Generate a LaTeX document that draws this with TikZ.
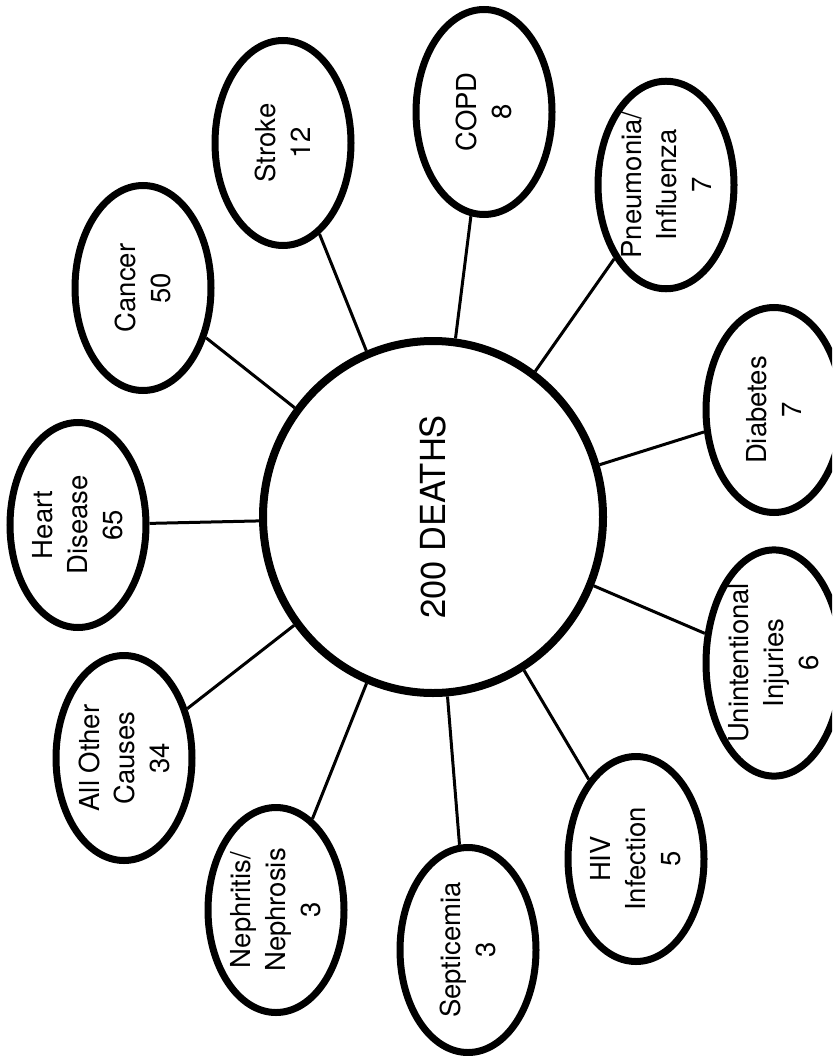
\documentclass[tikz,border=0pt]{standalone}
\usepackage{fontspec}
\setmainfont{TeX Gyre Heros}
\usetikzlibrary{shapes.geometric}

\begin{document}
\begin{tikzpicture}[x=1pt,y=-1pt,
  cause/.style={ellipse,draw,line width=7pt,rotate=90,align=center,
    minimum width=205pt,minimum height=136pt,inner sep=0pt,
    font=\fontsize{27.5}{35}\selectfont},
  deaths/.style={ellipse,draw,line width=8pt,rotate=90,
    minimum width=352pt,minimum height=340pt,
    font=\fontsize{34.5}{40}\selectfont},
  link/.style={line width=3pt}]

\clip (0,0) rectangle (832,1056);
\useasboundingbox (0,0) rectangle (832,1056);

\node[deaths] (main) at (433,517) {200 DEATHS};

\node[cause] (heart) at (78,525) {Heart\\Disease\\65};
\node[cause] (cancer) at (143,288) {Cancer\\50};
\node[cause] (stroke) at (283,143) {Stroke\\12};
\node[cause] (copd) at (484,112) {COPD\\8};
\node[cause] (pneu) at (666,185) {Pneumonia/\\Influenza\\7};
\node[cause] (diab) at (774,410) {Diabetes\\7};
\node[cause] (injury) at (774,663) {Unintentional\\Injuries\\6};
\node[cause] (hiv) at (636,859) {HIV\\Infection\\5};
\node[cause] (sept) at (468,950) {Septicemia\\3};
\node[cause] (neph) at (276,910) {Nephritis/\\Nephrosis\\3};
\node[cause] (other) at (124,758) {All Other\\Causes\\34};

\foreach \c in {heart,cancer,stroke,copd,pneu,diab,injury,hiv,sept,neph,other}
  \draw[link] (main) -- (\c);
\end{tikzpicture}
\end{document}
